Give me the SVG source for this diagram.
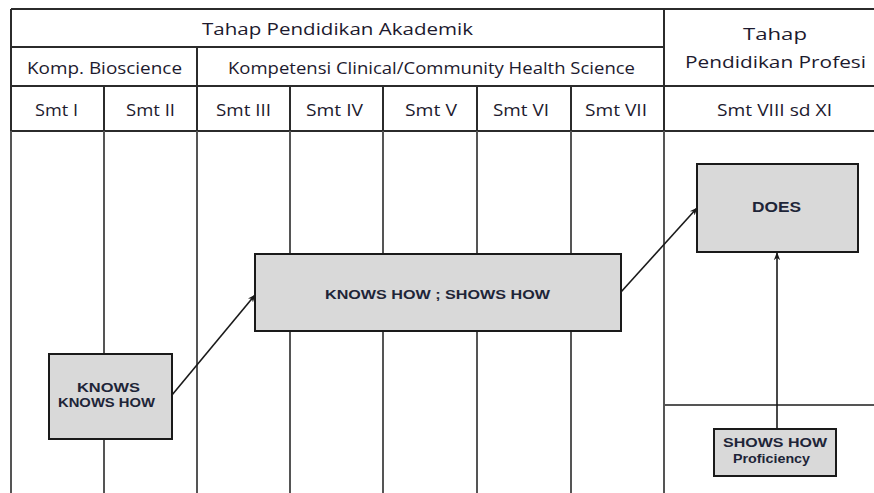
<svg xmlns="http://www.w3.org/2000/svg" width="874" height="493" viewBox="0 0 874 493">
<defs>
<style>
.grid{stroke:#2b2b2b;stroke-width:2;fill:none}
.body{stroke:#555;stroke-width:2;fill:none}
.hdr{font-family:"Open Sans","Liberation Sans",sans-serif;font-size:17px;fill:#1d1a2e;text-anchor:middle}
.box{fill:#d9d9d9;stroke:#1a1a1a;stroke-width:2}
.bt{font-family:"Liberation Sans",Arial,sans-serif;font-weight:bold;fill:#1e2538;text-anchor:middle}
.conn{stroke:#1a1a1a;stroke-width:1.6;fill:none;marker-end:url(#arr)}
</style>
<marker id="arr" viewBox="0 0 10 10" refX="9" refY="5" markerWidth="8" markerHeight="8" orient="auto" markerUnits="userSpaceOnUse">
<path d="M0,1 L10,5 L0,9 L3,5 Z" fill="#1a1a1a"/>
</marker>
</defs>
<rect width="874" height="493" fill="#fff"/>
<g id="table">
<line class="grid" x1="11" y1="9" x2="874" y2="9"/>
<line class="grid" x1="11" y1="47" x2="664" y2="47"/>
<line class="grid" x1="11" y1="86" x2="874" y2="86"/>
<line class="grid" x1="11" y1="131" x2="874" y2="131"/>
<line class="grid" x1="11" y1="9" x2="11" y2="131"/>
<line class="grid" x1="197" y1="47" x2="197" y2="131"/>
<line class="grid" x1="104" y1="86" x2="104" y2="131"/>
<line class="grid" x1="290" y1="86" x2="290" y2="131"/>
<line class="grid" x1="383" y1="86" x2="383" y2="131"/>
<line class="grid" x1="477" y1="86" x2="477" y2="131"/>
<line class="grid" x1="571" y1="86" x2="571" y2="131"/>
<line class="grid" x1="664" y1="9" x2="664" y2="131"/>
<line class="body" x1="11" y1="131" x2="11" y2="493"/>
<line class="body" x1="104" y1="131" x2="104" y2="493"/>
<line class="body" x1="197" y1="131" x2="197" y2="493"/>
<line class="body" x1="290" y1="131" x2="290" y2="493"/>
<line class="body" x1="383" y1="131" x2="383" y2="493"/>
<line class="body" x1="477" y1="131" x2="477" y2="493"/>
<line class="body" x1="571" y1="131" x2="571" y2="493"/>
<line class="body" x1="664" y1="131" x2="664" y2="493"/>
<line class="body" x1="664" y1="405" x2="874" y2="405"/>
<text class="hdr" x="337.5" y="35" textLength="271" lengthAdjust="spacingAndGlyphs">Tahap Pendidikan Akademik</text>
<text class="hdr" x="104.5" y="74" textLength="155" lengthAdjust="spacingAndGlyphs">Komp. Bioscience</text>
<text class="hdr" x="431.5" y="74" textLength="407" lengthAdjust="spacingAndGlyphs">Kompetensi Clinical/Community Health  Science</text>
<text class="hdr" x="775" y="40" textLength="64" lengthAdjust="spacingAndGlyphs">Tahap</text>
<text class="hdr" x="775.5" y="68" textLength="181" lengthAdjust="spacingAndGlyphs">Pendidikan Profesi</text>
<text class="hdr" x="56.5" y="116" textLength="43" lengthAdjust="spacingAndGlyphs">Smt I</text>
<text class="hdr" x="150.5" y="116" textLength="49" lengthAdjust="spacingAndGlyphs">Smt II</text>
<text class="hdr" x="243.5" y="116" textLength="55" lengthAdjust="spacingAndGlyphs">Smt III</text>
<text class="hdr" x="334.5" y="116" textLength="57" lengthAdjust="spacingAndGlyphs">Smt IV</text>
<text class="hdr" x="431" y="116" textLength="52" lengthAdjust="spacingAndGlyphs">Smt V</text>
<text class="hdr" x="521" y="116" textLength="56" lengthAdjust="spacingAndGlyphs">Smt VI</text>
<text class="hdr" x="616" y="116" textLength="62" lengthAdjust="spacingAndGlyphs">Smt VII</text>
<text class="hdr" x="774.5" y="116" textLength="115" lengthAdjust="spacingAndGlyphs">Smt VIII sd XI</text>
</g>
<g id="connectors">
<line class="conn" x1="172" y1="395" x2="255" y2="295"/>
<line class="conn" x1="621" y1="292" x2="697" y2="208"/>
<line class="conn" x1="777" y1="429" x2="777" y2="253"/>
</g>
<g id="knows">
<rect class="box" x="49" y="354" width="123" height="85"/>
<text class="bt" x="108.5" y="392" font-size="12" textLength="63" lengthAdjust="spacingAndGlyphs">KNOWS</text>
<text class="bt" x="106.5" y="407" font-size="12" textLength="97" lengthAdjust="spacingAndGlyphs">KNOWS HOW</text>
</g>
<g id="knowshow-showshow">
<rect class="box" x="255" y="254" width="366" height="77"/>
<text class="bt" x="437.5" y="299" font-size="13" textLength="225" lengthAdjust="spacingAndGlyphs">KNOWS HOW ; SHOWS HOW</text>
</g>
<g id="does">
<rect class="box" x="697" y="164" width="161" height="88"/>
<text class="bt" x="776.5" y="212" font-size="14" textLength="49" lengthAdjust="spacingAndGlyphs">DOES</text>
</g>
<g id="showshow-proficiency">
<rect class="box" x="714" y="429" width="122" height="47"/>
<text class="bt" x="775" y="447" font-size="12" textLength="104" lengthAdjust="spacingAndGlyphs">SHOWS HOW</text>
<text class="bt" x="771.5" y="463" font-size="12" textLength="77" lengthAdjust="spacingAndGlyphs">Proficiency</text>
</g>
</svg>
